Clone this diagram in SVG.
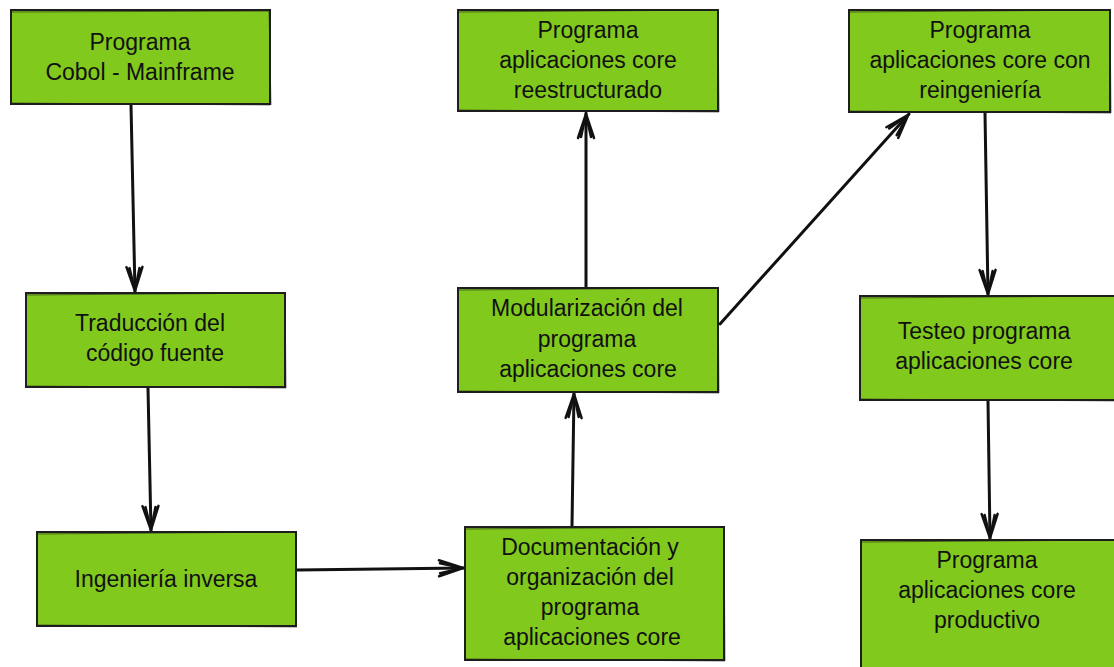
<svg xmlns="http://www.w3.org/2000/svg" width="1114" height="667" viewBox="0 0 1114 667">
  <style>
    .box { fill: #82c91e; stroke: #1e1e1e; stroke-width: 2; }
    .box2 { fill: none; stroke: #1e1e1e; stroke-width: 1; opacity: 0.6; }
    .lbl { font-family: "Liberation Sans", Arial, sans-serif; font-size: 23px; fill: #111; text-anchor: middle; }
    .edge { fill: none; stroke: #111; stroke-width: 3; stroke-linecap: round; marker-end: url(#head); }
  </style>
  <defs>
    <marker id="head" viewBox="0 0 28 20" refX="27" refY="10" markerWidth="28" markerHeight="20" markerUnits="userSpaceOnUse" orient="auto">
      <path d="M2,2 L26,10 L2,18 M3,5 L26,10 L3,15" fill="none" stroke="#111" stroke-width="2.5" stroke-linecap="round" stroke-linejoin="round"/>
    </marker>
  </defs>

  <g id="connectors">
    <path class="edge" d="M131,105 L135,292"/>
    <path class="edge" d="M148,388 L151,531"/>
    <path class="edge" d="M297,570 L464,568"/>
    <path class="edge" d="M572,526 L574,393"/>
    <path class="edge" d="M586,287 L586,113"/>
    <path class="edge" d="M720,324 L909,114"/>
    <path class="edge" d="M985,113 L988,295"/>
    <path class="edge" d="M988,401 L990,539"/>
  </g>

  <g id="cobol">
    <rect class="box" x="11" y="10" width="259" height="94"/>
    <path class="box2" d="M12,12 L271,11 M269,10 L271,105 M10,103 L270,105"/>
    <text class="lbl" x="140" y="50">Programa</text>
    <text class="lbl" x="140" y="80">Cobol - Mainframe</text>
  </g>

  <g id="traduccion">
    <rect class="box" x="26" y="293" width="259" height="94"/>
    <path class="box2" d="M25,295 L286,293 M285,292 L286,388 M26,386 L286,388"/>
    <text class="lbl" x="150" y="331">Traducción del</text>
    <text class="lbl" x="155" y="361">código fuente</text>
  </g>

  <g id="ingenieria">
    <rect class="box" x="37" y="532" width="259" height="94"/>
    <path class="box2" d="M36,534 L297,532 M296,531 L296,627 M37,625 L297,627"/>
    <text class="lbl" x="166" y="587">Ingeniería inversa</text>
  </g>

  <g id="documentacion">
    <rect class="box" x="465" y="527" width="259" height="133"/>
    <path class="box2" d="M466,529 L725,527 M724,526 L725,661 M465,659 L725,661"/>
    <text class="lbl" x="590" y="555">Documentación y</text>
    <text class="lbl" x="590" y="585">organización del</text>
    <text class="lbl" x="590" y="615">programa</text>
    <text class="lbl" x="592" y="645">aplicaciones core</text>
  </g>

  <g id="modularizacion">
    <rect class="box" x="458" y="288" width="260" height="104"/>
    <path class="box2" d="M459,290 L719,288 M718,287 L719,393 M458,391 L719,393"/>
    <text class="lbl" x="587" y="316">Modularización del</text>
    <text class="lbl" x="587" y="347">programa</text>
    <text class="lbl" x="588" y="377">aplicaciones core</text>
  </g>

  <g id="reestructurado">
    <rect class="box" x="458" y="10" width="260" height="101"/>
    <path class="box2" d="M459,12 L719,10 M718,9 L719,112 M458,110 L719,112"/>
    <text class="lbl" x="588" y="38">Programa</text>
    <text class="lbl" x="588" y="68">aplicaciones core</text>
    <text class="lbl" x="588" y="98">reestructurado</text>
  </g>

  <g id="reingenieria">
    <rect class="box" x="849" y="10" width="261" height="102"/>
    <path class="box2" d="M850,12 L1111,10 M1110,9 L1111,113 M849,111 L1111,113"/>
    <text class="lbl" x="980" y="38">Programa</text>
    <text class="lbl" x="980" y="68">aplicaciones core con</text>
    <text class="lbl" x="980" y="98">reingeniería</text>
  </g>

  <g id="testeo">
    <rect class="box" x="860" y="296" width="262" height="104"/>
    <path class="box2" d="M861,298 L1122,296 M860,399 L1122,401"/>
    <text class="lbl" x="984" y="339">Testeo programa</text>
    <text class="lbl" x="984" y="369">aplicaciones core</text>
  </g>

  <g id="productivo">
    <rect class="box" x="861" y="540" width="262" height="140"/>
    <path class="box2" d="M862,542 L1122,540"/>
    <text class="lbl" x="987" y="568">Programa</text>
    <text class="lbl" x="987" y="598">aplicaciones core</text>
    <text class="lbl" x="987" y="628">productivo</text>
  </g>
</svg>
